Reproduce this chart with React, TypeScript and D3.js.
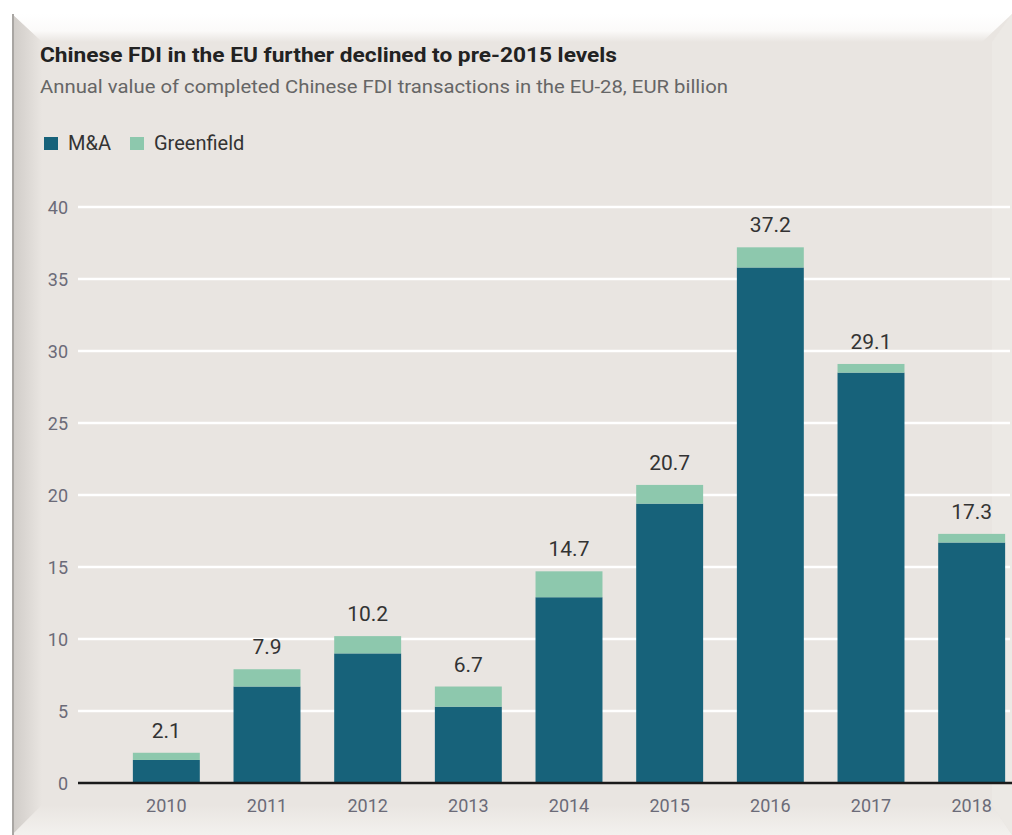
import React from "react";
import * as d3 from "d3";

const years = ["2010", "2011", "2012", "2013", "2014", "2015", "2016", "2017", "2018"];
const mna = [1.6, 6.7, 9.0, 5.3, 12.9, 19.4, 35.8, 28.5, 16.7];
const totals = [2.1, 7.9, 10.2, 6.7, 14.7, 20.7, 37.2, 29.1, 17.3];
const totalLabels = ["2.1", "7.9", "10.2", "6.7", "14.7", "20.7", "37.2", "29.1", "17.3"];
const yTicks = [0, 5, 10, 15, 20, 25, 30, 35, 40];
const seriesNames = ["M&A", "Greenfield"];

const W = 1012;
const H = 835;
const C_MNA = "#17627a";
const C_GF = "#8dc8ad";
const FONT = "'Roboto', sans-serif";

export default function App() {
  const x = d3.scaleBand<string>().domain(years).range([116, 1022]).paddingInner(0.335).paddingOuter(0.1675);
  const y = d3.scaleLinear().domain([0, 40]).range([783, 207]);
  const color = d3.scaleOrdinal<string, string>().domain(seriesNames).range([C_MNA, C_GF]);

  const rows = years.map((yr, i) => ({ year: yr, "M&A": mna[i], Greenfield: +(totals[i] - mna[i]).toFixed(2) }));
  const stacked = d3.stack<any>().keys(seriesNames)(rows);

  return (
    <svg width={W} height={H} style={{ position: "absolute", left: 0, top: 0 }} fontFamily={FONT}>
      <defs>
        <linearGradient id="topG" x1="0" y1="0" x2="0" y2="1">
          <stop offset="0" stopColor="#ffffff" />
          <stop offset="0.6" stopColor="#fbfaf9" />
          <stop offset="1" stopColor="#e9e5e1" />
        </linearGradient>
        <linearGradient id="leftG" x1="0" y1="0" x2="1" y2="0">
          <stop offset="0" stopColor="#cfcbc7" />
          <stop offset="1" stopColor="#e9e5e1" />
        </linearGradient>
        <linearGradient id="botG" x1="0" y1="0" x2="0" y2="1">
          <stop offset="0" stopColor="#e9e5e1" />
          <stop offset="1" stopColor="#f3f1ee" />
        </linearGradient>
      </defs>
      <rect x={0} y={0} width={W} height={H} fill="#ffffff" />
      <rect x={12} y={14} width={W - 12} height={H - 14} fill="#e9e5e1" />
      <polygon points={`12,14 ${W},14 ${W - 30},42 42,42`} fill="url(#topG)" />
      <polygon points={`12,14 42,42 42,${H - 30} 12,${H}`} fill="url(#leftG)" />
      <polygon points={`12,${H} 42,${H - 30} ${W - 20},${H - 30} ${W},${H}`} fill="url(#botG)" />
      <polygon points={`${W},14 ${W - 20},42 ${W - 20},${H - 30} ${W},${H}`} fill="#ece9e5" />
      <rect x={12} y={14} width={2} height={H - 14} fill="#a9a6a3" />

      <text x={40} y={62} fontSize={21} fontWeight={700} fill="#222" textLength={577} lengthAdjust="spacingAndGlyphs">Chinese FDI in the EU further declined to pre-2015 levels</text>
      <text x={40} y={93} fontSize={18.5} fill="#666" textLength={688} lengthAdjust="spacingAndGlyphs">Annual value of completed Chinese FDI transactions in the EU-28, EUR billion</text>

      {seriesNames.map((s, i) => {
        const lx = i === 0 ? 44 : 130;
        return (
          <g key={s}>
            <rect x={lx} y={137} width={14} height={13} fill={color(s)} />
            <text x={lx + 24} y={150} fontSize={20} fill="#333">{s}</text>
          </g>
        );
      })}

      {yTicks.map((t) => (
        <g key={t}>
          {t > 0 && <line x1={78} x2={1010} y1={y(t)} y2={y(t)} stroke="#ffffff" strokeWidth={2.5} />}
          <text x={68} y={y(t) + 6.5} textAnchor="end" fontSize={18} fill="#6b6b78">{t}</text>
        </g>
      ))}

      {stacked.map((layer) => (
        <g key={layer.key} fill={color(layer.key)}>
          {layer.map((d, i) => (
            <rect key={i} x={x(years[i])} y={y(d[1])} width={x.bandwidth()} height={y(d[0]) - y(d[1])} />
          ))}
        </g>
      ))}

      <line x1={78} x2={W} y1={y(0)} y2={y(0)} stroke="#1a1a1a" strokeWidth={2.5} />

      {years.map((yr, i) => (
        <g key={yr}>
          <text x={(x(yr) as number) + x.bandwidth() / 2} y={y(totals[i]) - 15} textAnchor="middle" fontSize={21} fill="#333">{totalLabels[i]}</text>
          <text x={(x(yr) as number) + x.bandwidth() / 2} y={812} textAnchor="middle" fontSize={18} fill="#6b6b78">{yr}</text>
        </g>
      ))}
    </svg>
  );
}
